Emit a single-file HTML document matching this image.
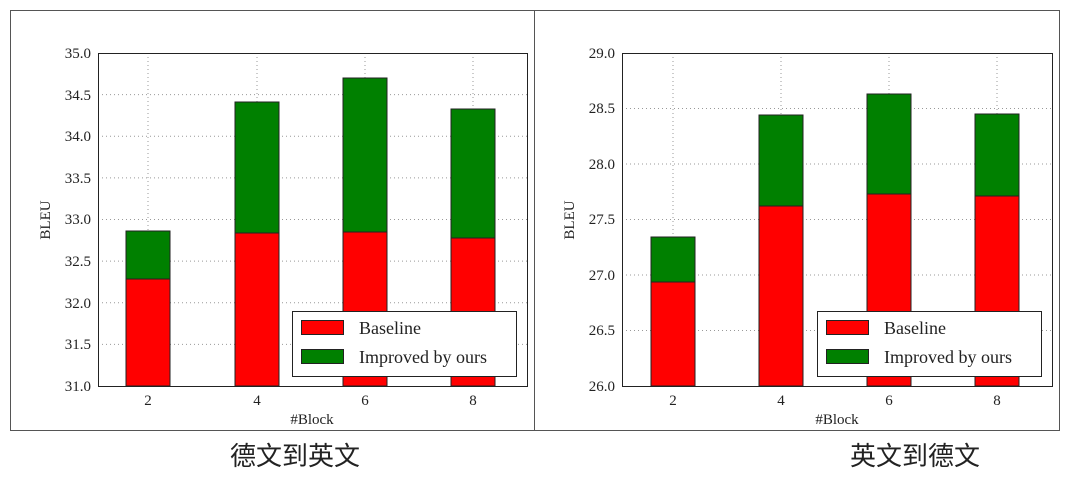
<!DOCTYPE html>
<html><head><meta charset="utf-8"><style>
body{margin:0;background:#fff;width:1080px;height:486px;overflow:hidden}
svg text{font-family:"Liberation Serif",serif;fill:#222}
.cjk{font-family:"Liberation Sans","Noto Sans CJK SC",sans-serif !important;font-size:26px}
</style></head><body>
<svg width="1080" height="486" viewBox="0 0 1080 486">
<rect x="10.5" y="10.5" width="1049" height="420" fill="none" stroke="#555" stroke-width="1"/>
<line x1="534.5" y1="10" x2="534.5" y2="430" stroke="#555"/>
<g stroke="#999" stroke-dasharray="1,3" stroke-width="1">
<line x1="98" x2="527" y1="344.4" y2="344.4"/><line x1="98" x2="527" y1="302.75" y2="302.75"/><line x1="98" x2="527" y1="261.1" y2="261.1"/><line x1="98" x2="527" y1="219.5" y2="219.5"/><line x1="98" x2="527" y1="177.9" y2="177.9"/><line x1="98" x2="527" y1="136.25" y2="136.25"/><line x1="98" x2="527" y1="94.6" y2="94.6"/>
<line x1="148" x2="148" y1="53" y2="386"/><line x1="257" x2="257" y1="53" y2="386"/><line x1="365" x2="365" y1="53" y2="386"/><line x1="473" x2="473" y1="53" y2="386"/>
<line x1="622" x2="1052" y1="330.5" y2="330.5"/><line x1="622" x2="1052" y1="275" y2="275"/><line x1="622" x2="1052" y1="219.5" y2="219.5"/><line x1="622" x2="1052" y1="164" y2="164"/><line x1="622" x2="1052" y1="108.5" y2="108.5"/>
<line x1="673" x2="673" y1="53" y2="386"/><line x1="781" x2="781" y1="53" y2="386"/><line x1="889" x2="889" y1="53" y2="386"/><line x1="997" x2="997" y1="53" y2="386"/>
</g>
<g stroke="#222" stroke-width="1">
<rect x="126" y="279" width="44" height="107" fill="#f00"/><rect x="126" y="231" width="44" height="48" fill="#008000"/>
<rect x="235" y="233" width="44" height="153" fill="#f00"/><rect x="235" y="102" width="44" height="131" fill="#008000"/>
<rect x="343" y="232" width="44" height="154" fill="#f00"/><rect x="343" y="78" width="44" height="154" fill="#008000"/>
<rect x="451" y="238" width="44" height="148" fill="#f00"/><rect x="451" y="109" width="44" height="129" fill="#008000"/>
<rect x="651" y="282" width="44" height="104" fill="#f00"/><rect x="651" y="237" width="44" height="45" fill="#008000"/>
<rect x="759" y="206" width="44" height="180" fill="#f00"/><rect x="759" y="115" width="44" height="91" fill="#008000"/>
<rect x="867" y="194" width="44" height="192" fill="#f00"/><rect x="867" y="94" width="44" height="100" fill="#008000"/>
<rect x="975" y="196" width="44" height="190" fill="#f00"/><rect x="975" y="114" width="44" height="82" fill="#008000"/>
</g>
<rect x="98.5" y="53.5" width="429" height="333" fill="none" stroke="#222"/>
<rect x="622.5" y="53.5" width="430" height="333" fill="none" stroke="#222"/>
<g font-size="15" text-anchor="end">
<text x="91" y="391">31.0</text><text x="91" y="349">31.5</text><text x="91" y="308">32.0</text><text x="91" y="266">32.5</text><text x="91" y="224">33.0</text><text x="91" y="183">33.5</text><text x="91" y="141">34.0</text><text x="91" y="100">34.5</text><text x="91" y="58">35.0</text>
<text x="615" y="391">26.0</text><text x="615" y="335">26.5</text><text x="615" y="280">27.0</text><text x="615" y="224">27.5</text><text x="615" y="169">28.0</text><text x="615" y="113">28.5</text><text x="615" y="58">29.0</text>
</g>
<g font-size="15" text-anchor="middle">
<text x="148" y="405">2</text><text x="257" y="405">4</text><text x="365" y="405">6</text><text x="473" y="405">8</text>
<text x="673" y="405">2</text><text x="781" y="405">4</text><text x="889" y="405">6</text><text x="997" y="405">8</text>
<text x="312" y="424">#Block</text><text x="837" y="424">#Block</text>
<text transform="translate(50,220) rotate(-90)">BLEU</text>
<text transform="translate(574,220) rotate(-90)">BLEU</text>
</g>
<g>
<rect x="292.5" y="311.5" width="224" height="65" fill="#fff" stroke="#222"/>
<rect x="301.5" y="320.5" width="42" height="14" fill="#f00" stroke="#222"/>
<rect x="301.5" y="349.5" width="42" height="14" fill="#008000" stroke="#222"/>
<text x="359" y="334" font-size="18">Baseline</text><text x="359" y="363" font-size="18">Improved by ours</text>
<rect x="817.5" y="311.5" width="224" height="65" fill="#fff" stroke="#222"/>
<rect x="826.5" y="320.5" width="42" height="14" fill="#f00" stroke="#222"/>
<rect x="826.5" y="349.5" width="42" height="14" fill="#008000" stroke="#222"/>
<text x="884" y="334" font-size="18">Baseline</text><text x="884" y="363" font-size="18">Improved by ours</text>
</g>
<text class="cjk" x="295" y="465" text-anchor="middle">德文到英文</text>
<text class="cjk" x="915" y="465" text-anchor="middle">英文到德文</text>
</svg>
</body></html>
